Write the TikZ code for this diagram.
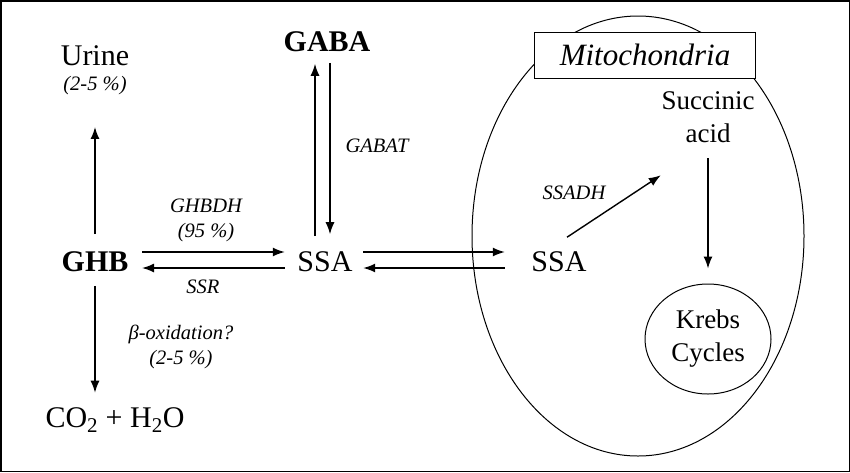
\documentclass[tikz,border=0pt]{standalone}
\usepackage{fontspec}
\setmainfont{Liberation Serif}
\usetikzlibrary{arrows.meta,shapes.geometric,positioning}

\tikzset{
  chem/.style={font=\fontsize{30}{34}\selectfont, inner sep=0pt},
  enz/.style={font=\fontsize{20.5}{25}\selectfont\itshape, align=center, inner sep=0pt},
  small/.style={font=\fontsize{27}{33}\selectfont, align=center, inner sep=0pt},
}

\begin{document}
\begin{tikzpicture}[x=1pt,y=-1pt,>={Latex[length=12pt,width=9pt]},line width=1.4pt]
    \useasboundingbox (0,0) rectangle (850,472);
    \draw[line width=1.5pt] (0.75,0.75) rectangle (849.25,471.25);

    % mitochondrion
    \node[ellipse,draw,line width=1pt,minimum width=332pt,minimum height=440pt] (mito) at (638,236) {};
    \node[draw,fill=white,line width=1pt,minimum width=221pt,minimum height=46pt,
          font=\fontsize{31}{34}\selectfont\itshape] (mitobox) at (645,55) {Mitochondria};

    \node[chem]              (GHB)   at (95,262)  {\bfseries GHB};
    \node[chem]              (SSA)   at (325,262) {SSA};
    \node[chem]              (SSAm)  at (559,262) {SSA};
    \node[chem]              (GABA)  at (327,42)  {\bfseries GABA};
    \node[chem]              (urine) at (95,56)   {Urine};
    \node[enz]               (upct)  at (95,86)   {(2-5 \%)};
    \node[chem]              (CO2)   at (115,420) {CO\textsubscript{2} + H\textsubscript{2}O};
    \node[small]             (succ)  at (708,117) {Succinic\\acid};
    \node[small,ellipse,draw,line width=1pt,minimum width=126pt,minimum height=110pt]
                             (krebs) at (708,339) {Krebs\\Cycles};
    \coordinate (co2top) at ([yshift=14pt]CO2.north);

    % enzymes
    \node[enz] (ghbdh) at (206,220) {GHBDH\\(95 \%)};
    \node[enz] (ssr)   at (203,287) {SSR};
    \node[enz] (gabat) at (377,146) {GABAT};
    \node[enz] (boxi)  at (181,347) {β-oxidation?\\(2-5 \%)};
    \node[enz] (ssadh) at (574,193) {SSADH};

    \path [->]
    ([xshift=13pt,yshift=10pt]GHB.east) edge ([xshift=-12pt,yshift=10pt]SSA.west)
    ([xshift=-12pt,yshift=-6pt]SSA.west) edge ([xshift=13pt,yshift=-6pt]GHB.east)
    ([xshift=10pt,yshift=10pt]SSA.east) edge ([xshift=-26pt,yshift=10pt]SSAm.west)
    ([xshift=-26pt,yshift=-6pt]SSAm.west) edge ([xshift=10pt,yshift=-6pt]SSA.east)
    ([xshift=-10pt,yshift=15pt]SSA.north) edge ([xshift=-12pt,yshift=-11pt]GABA.south)
    ([xshift=3pt,yshift=-10pt]GABA.south) edge ([xshift=5pt,yshift=17pt]SSA.north)
    ([yshift=17pt]GHB.north) edge ([yshift=-31pt]upct.south)
    ([yshift=-13pt]GHB.south) edge (GHB.south |- co2top)
    ([xshift=8pt,yshift=14pt]SSAm.north) edge ([yshift=-32pt]succ.south west)
    ([yshift=-15pt]succ.south) edge ([yshift=15pt]krebs.north);
  \end{tikzpicture}
\end{document}
